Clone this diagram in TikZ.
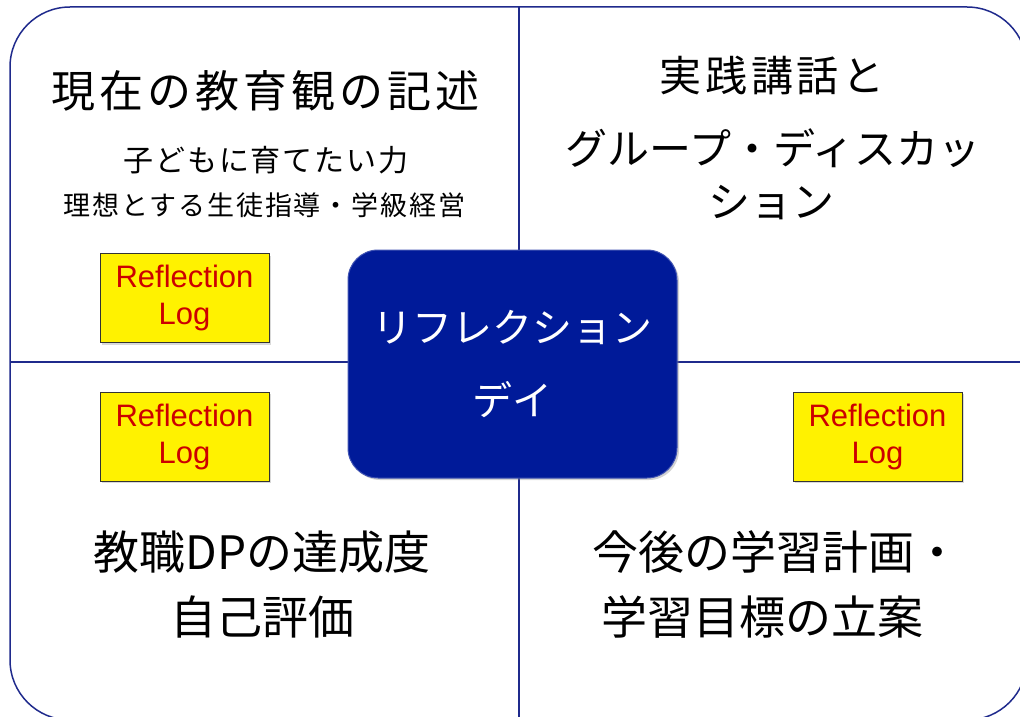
\documentclass[tikz,border=0pt]{standalone}
\usepackage{fontspec}
\setmainfont{Liberation Sans}
\newfontfamily\jp{Noto Sans CJK JP}
\usetikzlibrary{shadows}
\definecolor{navy}{HTML}{1F2A8C}
\definecolor{boxblue}{HTML}{001A99}
\definecolor{logred}{HTML}{CC0000}
\tikzset{
  frame/.style={draw=navy, line width=1.5pt, rounded corners=60pt},
  divider/.style={draw=navy, line width=1.3pt},
  hub/.style={fill=boxblue, draw=boxblue!75!white, line width=1pt, rounded corners=30pt,
    minimum width=329pt, minimum height=228pt, text=white, align=center,
    font=\jp\fontsize{40}{73}\selectfont,
    drop shadow={opacity=0.35, shadow xshift=2pt, shadow yshift=-2pt}},
  logbox/.style={fill=yellow, draw=black!80, line width=1pt,
    minimum width=169pt, minimum height=89pt, text=logred, align=center,
    font=\fontsize{31}{37}\selectfont,
    drop shadow={opacity=0.3, shadow xshift=2pt, shadow yshift=-2pt}},
  jtext/.style={text=black, inner sep=0pt, anchor=center},
}
\begin{document}
\begin{tikzpicture}[x=1pt, y=-1pt]
\useasboundingbox (0,0) rectangle (1020,717);
\begin{scope}
\clip (0,0) rectangle (1020,717);
\draw[frame] (10,7) rectangle (1027,720);
\coordinate (vtop) at (519,7);
\coordinate (vbot) at (519,720);
\coordinate (hleft) at (10,362);
\coordinate (hright) at (1027,362);
\draw[divider] (vtop) -- (vbot);
\draw[divider] (hleft) -- (hright);
\end{scope}

% top-left quadrant
\node[jtext, font=\jp\fontsize{44}{50}\selectfont\addfontfeature{LetterSpace=9}] (tl1) at (265.5,91) {現在の教育観の記述};
\node[jtext, font=\jp\fontsize{30}{36}\selectfont\addfontfeature{LetterSpace=6}] (tl2) at (266,160) {子どもに育てたい力};
\node[jtext, font=\jp\fontsize{27}{32}\selectfont\addfontfeature{LetterSpace=7}] (tl3) at (264.5,205) {理想とする生徒指導・学級経営};

% top-right quadrant
\node[jtext, font=\jp\fontsize{42}{50}\selectfont\addfontfeature{LetterSpace=9}] (tr1) at (772,76) {実践講話と};
\node[jtext, font=\jp\fontsize{42}{50}\selectfont] (tr2) at (773,148) {グループ・ディスカッ};
\node[jtext, font=\jp\fontsize{42}{50}\selectfont] (tr3) at (771,203) {ション};

% bottom-left quadrant
\node[jtext, font=\jp\fontsize{46}{52}\selectfont] (bl1) at (262,552) {教職DPの達成度};
\node[jtext, font=\jp\fontsize{46}{52}\selectfont] (bl2) at (262,617) {自己評価};

% bottom-right quadrant
\node[jtext, font=\jp\fontsize{46}{52}\selectfont] (br1) at (776,552) {今後の学習計画・};
\node[jtext, font=\jp\fontsize{46}{52}\selectfont] (br2) at (762,617) {学習目標の立案};

% reflection logs
\node[logbox] (log1) at (184.5,298) {Reflection\\Log};
\node[logbox] (log2) at (184.5,436.5) {Reflection\\Log};
\node[logbox] (log3) at (877.5,436.5) {Reflection\\Log};

% hub
\node[hub] (hub) at (512.5,364) {リフレクション\\デイ};
\end{tikzpicture}
\end{document}
